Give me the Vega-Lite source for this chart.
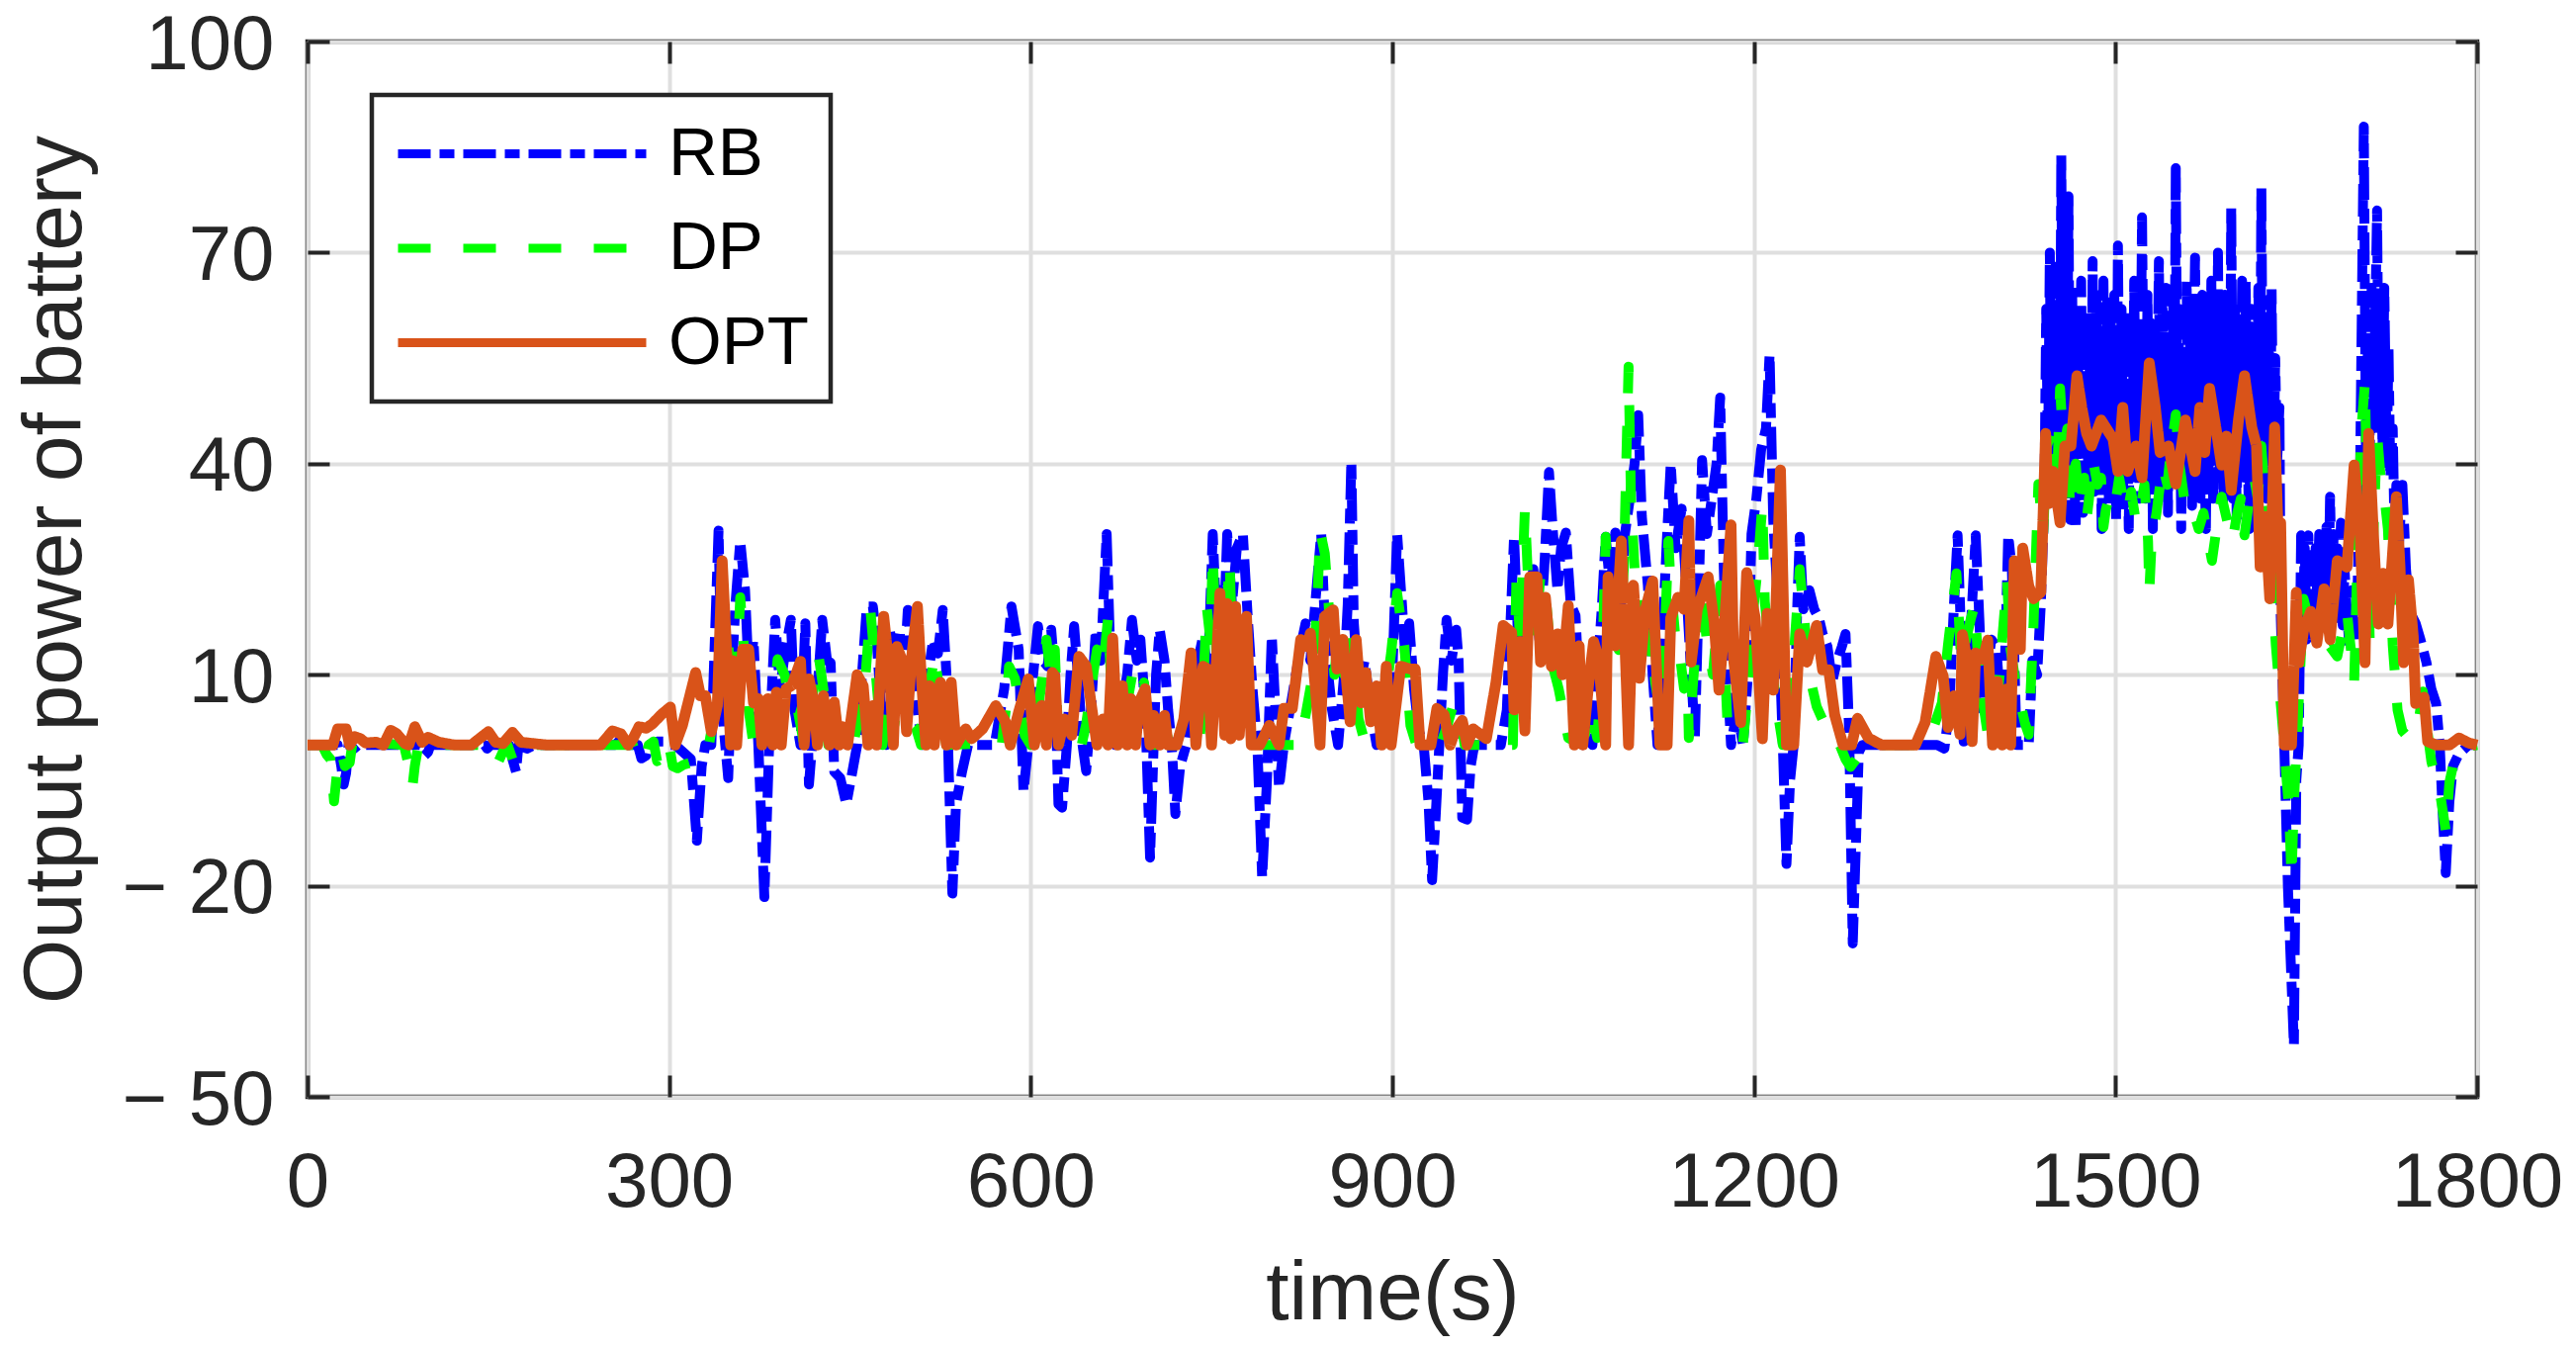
{
  "$schema": "https://vega.github.io/schema/vega-lite/v6.json",
  "width": 2194,
  "height": 1067,
  "autosize": {"type": "none"},
  "padding": {"left": 311, "top": 42, "right": 100, "bottom": 255},
  "background": "white",
  "datasets": {
    "rb": [
      {"t":0,"p":0,"s":"RB"},{"t":25,"p":0,"s":"RB"},{"t":28,"p":-3,"s":"RB"},{"t":30,"p":-5.6,"s":"RB"},{"t":32,"p":-4,"s":"RB"},{"t":34,"p":0,"s":"RB"},{"t":38,"p":-0.6,"s":"RB"},{"t":42,"p":0,"s":"RB"},{"t":93,"p":0,"s":"RB"},{"t":97,"p":-1.5,"s":"RB"},{"t":100,"p":-1,"s":"RB"},{"t":102,"p":0,"s":"RB"},{"t":147,"p":0,"s":"RB"},{"t":149,"p":-0.5,"s":"RB"},{"t":152,"p":0,"s":"RB"},{"t":167,"p":0,"s":"RB"},{"t":170,"p":-2,"s":"RB"},{"t":173,"p":-3.8,"s":"RB"},{"t":175,"p":0,"s":"RB"},{"t":182,"p":-0.5,"s":"RB"},{"t":188,"p":0,"s":"RB"},{"t":255,"p":0,"s":"RB"},{"t":258,"p":0.5,"s":"RB"},{"t":262,"p":0,"s":"RB"},{"t":274,"p":0,"s":"RB"},{"t":277,"p":-1.9,"s":"RB"},{"t":281,"p":-1.5,"s":"RB"},{"t":283,"p":0,"s":"RB"},{"t":290,"p":0.5,"s":"RB"},{"t":297,"p":0.5,"s":"RB"},{"t":300,"p":0,"s":"RB"},{"t":305,"p":0,"s":"RB"},{"t":318,"p":-2,"s":"RB"},{"t":323,"p":-13.6,"s":"RB"},{"t":327,"p":-3,"s":"RB"},{"t":330,"p":0,"s":"RB"},{"t":335,"p":0,"s":"RB"},{"t":341,"p":30.5,"s":"RB"},{"t":344,"p":5,"s":"RB"},{"t":349,"p":-4.7,"s":"RB"},{"t":352,"p":10,"s":"RB"},{"t":355,"p":20,"s":"RB"},{"t":359,"p":29,"s":"RB"},{"t":363,"p":22,"s":"RB"},{"t":366,"p":10,"s":"RB"},{"t":370,"p":15,"s":"RB"},{"t":374,"p":0,"s":"RB"},{"t":379,"p":-21.6,"s":"RB"},{"t":383,"p":0,"s":"RB"},{"t":388,"p":17.8,"s":"RB"},{"t":392,"p":8,"s":"RB"},{"t":396,"p":13,"s":"RB"},{"t":401,"p":17.8,"s":"RB"},{"t":404,"p":5,"s":"RB"},{"t":409,"p":0,"s":"RB"},{"t":413,"p":17.3,"s":"RB"},{"t":416,"p":-5.6,"s":"RB"},{"t":420,"p":3,"s":"RB"},{"t":424,"p":10,"s":"RB"},{"t":427,"p":17.8,"s":"RB"},{"t":431,"p":12,"s":"RB"},{"t":434,"p":11.7,"s":"RB"},{"t":437,"p":-3.8,"s":"RB"},{"t":442,"p":-4.7,"s":"RB"},{"t":447,"p":-8.4,"s":"RB"},{"t":452,"p":-3.8,"s":"RB"},{"t":456,"p":0,"s":"RB"},{"t":460,"p":10,"s":"RB"},{"t":464,"p":19.7,"s":"RB"},{"t":469,"p":19.7,"s":"RB"},{"t":472,"p":15.4,"s":"RB"},{"t":476,"p":5,"s":"RB"},{"t":480,"p":0,"s":"RB"},{"t":483,"p":16.4,"s":"RB"},{"t":487,"p":12,"s":"RB"},{"t":491,"p":16.4,"s":"RB"},{"t":495,"p":10,"s":"RB"},{"t":498,"p":19.2,"s":"RB"},{"t":502,"p":12,"s":"RB"},{"t":506,"p":5,"s":"RB"},{"t":510,"p":0,"s":"RB"},{"t":515,"p":10,"s":"RB"},{"t":519,"p":15,"s":"RB"},{"t":523,"p":13,"s":"RB"},{"t":527,"p":19.2,"s":"RB"},{"t":530,"p":10.3,"s":"RB"},{"t":532,"p":-3.8,"s":"RB"},{"t":535,"p":-21.1,"s":"RB"},{"t":538,"p":-8.4,"s":"RB"},{"t":543,"p":-3.8,"s":"RB"},{"t":548,"p":0,"s":"RB"},{"t":570,"p":0,"s":"RB"},{"t":578,"p":8,"s":"RB"},{"t":584,"p":19.7,"s":"RB"},{"t":590,"p":13.6,"s":"RB"},{"t":594,"p":-6.6,"s":"RB"},{"t":598,"p":0,"s":"RB"},{"t":602,"p":10,"s":"RB"},{"t":606,"p":16.9,"s":"RB"},{"t":610,"p":12,"s":"RB"},{"t":614,"p":11.2,"s":"RB"},{"t":617,"p":16.4,"s":"RB"},{"t":620,"p":10,"s":"RB"},{"t":623,"p":-8.4,"s":"RB"},{"t":626,"p":-8.9,"s":"RB"},{"t":630,"p":0,"s":"RB"},{"t":633,"p":10,"s":"RB"},{"t":636,"p":16.9,"s":"RB"},{"t":640,"p":8,"s":"RB"},{"t":643,"p":0,"s":"RB"},{"t":646,"p":-3.7,"s":"RB"},{"t":650,"p":5,"s":"RB"},{"t":654,"p":16.4,"s":"RB"},{"t":658,"p":12,"s":"RB"},{"t":663,"p":30,"s":"RB"},{"t":666,"p":13,"s":"RB"},{"t":670,"p":0,"s":"RB"},{"t":675,"p":5,"s":"RB"},{"t":680,"p":10,"s":"RB"},{"t":684,"p":17.8,"s":"RB"},{"t":688,"p":12,"s":"RB"},{"t":691,"p":15,"s":"RB"},{"t":695,"p":5,"s":"RB"},{"t":699,"p":-16,"s":"RB"},{"t":702,"p":0,"s":"RB"},{"t":704,"p":10,"s":"RB"},{"t":707,"p":16.4,"s":"RB"},{"t":711,"p":12,"s":"RB"},{"t":714,"p":5,"s":"RB"},{"t":717,"p":0,"s":"RB"},{"t":720,"p":-9.8,"s":"RB"},{"t":724,"p":-3,"s":"RB"},{"t":729,"p":0,"s":"RB"},{"t":735,"p":8,"s":"RB"},{"t":740,"p":13,"s":"RB"},{"t":743,"p":15.5,"s":"RB"},{"t":747,"p":10,"s":"RB"},{"t":751,"p":30,"s":"RB"},{"t":754,"p":18,"s":"RB"},{"t":757,"p":22,"s":"RB"},{"t":760,"p":15,"s":"RB"},{"t":763,"p":30,"s":"RB"},{"t":767,"p":20,"s":"RB"},{"t":771,"p":28,"s":"RB"},{"t":776,"p":30,"s":"RB"},{"t":780,"p":18.3,"s":"RB"},{"t":784,"p":8,"s":"RB"},{"t":788,"p":0,"s":"RB"},{"t":792,"p":-18.8,"s":"RB"},{"t":796,"p":-5,"s":"RB"},{"t":800,"p":15.5,"s":"RB"},{"t":803,"p":5,"s":"RB"},{"t":806,"p":-6.1,"s":"RB"},{"t":810,"p":0,"s":"RB"},{"t":815,"p":5,"s":"RB"},{"t":820,"p":10,"s":"RB"},{"t":824,"p":14,"s":"RB"},{"t":828,"p":17.3,"s":"RB"},{"t":832,"p":12,"s":"RB"},{"t":836,"p":20,"s":"RB"},{"t":841,"p":30,"s":"RB"},{"t":845,"p":13,"s":"RB"},{"t":850,"p":5,"s":"RB"},{"t":855,"p":0,"s":"RB"},{"t":860,"p":10,"s":"RB"},{"t":863,"p":20,"s":"RB"},{"t":866,"p":40.3,"s":"RB"},{"t":868,"p":17.5,"s":"RB"},{"t":872,"p":8,"s":"RB"},{"t":877,"p":12,"s":"RB"},{"t":882,"p":5,"s":"RB"},{"t":887,"p":0,"s":"RB"},{"t":892,"p":3,"s":"RB"},{"t":896,"p":0.5,"s":"RB"},{"t":900,"p":10,"s":"RB"},{"t":904,"p":30,"s":"RB"},{"t":908,"p":20,"s":"RB"},{"t":911,"p":12,"s":"RB"},{"t":914,"p":17.3,"s":"RB"},{"t":918,"p":8,"s":"RB"},{"t":922,"p":2,"s":"RB"},{"t":926,"p":0,"s":"RB"},{"t":930,"p":-8,"s":"RB"},{"t":933,"p":-19.2,"s":"RB"},{"t":936,"p":-10,"s":"RB"},{"t":939,"p":0,"s":"RB"},{"t":942,"p":10,"s":"RB"},{"t":945,"p":17.8,"s":"RB"},{"t":949,"p":12,"s":"RB"},{"t":953,"p":16.4,"s":"RB"},{"t":955,"p":12,"s":"RB"},{"t":958,"p":-10.3,"s":"RB"},{"t":962,"p":-10.6,"s":"RB"},{"t":965,"p":-3,"s":"RB"},{"t":968,"p":0,"s":"RB"},{"t":990,"p":0,"s":"RB"},{"t":995,"p":5,"s":"RB"},{"t":1001,"p":29.6,"s":"RB"},{"t":1005,"p":12,"s":"RB"},{"t":1009,"p":8,"s":"RB"},{"t":1013,"p":20,"s":"RB"},{"t":1017,"p":25,"s":"RB"},{"t":1022,"p":15,"s":"RB"},{"t":1026,"p":25,"s":"RB"},{"t":1030,"p":38.8,"s":"RB"},{"t":1033,"p":30.8,"s":"RB"},{"t":1037,"p":22,"s":"RB"},{"t":1040,"p":28,"s":"RB"},{"t":1044,"p":30.2,"s":"RB"},{"t":1048,"p":20,"s":"RB"},{"t":1052,"p":18.4,"s":"RB"},{"t":1055,"p":8,"s":"RB"},{"t":1058,"p":0,"s":"RB"},{"t":1062,"p":5,"s":"RB"},{"t":1066,"p":0,"s":"RB"},{"t":1070,"p":10,"s":"RB"},{"t":1074,"p":20,"s":"RB"},{"t":1077,"p":29.6,"s":"RB"},{"t":1081,"p":22,"s":"RB"},{"t":1085,"p":30.2,"s":"RB"},{"t":1089,"p":18,"s":"RB"},{"t":1093,"p":30,"s":"RB"},{"t":1097,"p":35,"s":"RB"},{"t":1101,"p":40,"s":"RB"},{"t":1104,"p":46.9,"s":"RB"},{"t":1107,"p":32.5,"s":"RB"},{"t":1112,"p":22.7,"s":"RB"},{"t":1116,"p":10,"s":"RB"},{"t":1120,"p":0,"s":"RB"},{"t":1124,"p":15,"s":"RB"},{"t":1128,"p":30,"s":"RB"},{"t":1131,"p":40,"s":"RB"},{"t":1135,"p":28,"s":"RB"},{"t":1140,"p":33.6,"s":"RB"},{"t":1144,"p":22,"s":"RB"},{"t":1148,"p":10,"s":"RB"},{"t":1151,"p":1,"s":"RB"},{"t":1154,"p":20,"s":"RB"},{"t":1157,"p":40.5,"s":"RB"},{"t":1161,"p":30,"s":"RB"},{"t":1165,"p":35,"s":"RB"},{"t":1169,"p":40,"s":"RB"},{"t":1172,"p":49.4,"s":"RB"},{"t":1175,"p":25,"s":"RB"},{"t":1178,"p":10,"s":"RB"},{"t":1181,"p":0,"s":"RB"},{"t":1186,"p":5,"s":"RB"},{"t":1191,"p":0,"s":"RB"},{"t":1195,"p":10,"s":"RB"},{"t":1198,"p":30,"s":"RB"},{"t":1202,"p":35,"s":"RB"},{"t":1206,"p":42,"s":"RB"},{"t":1210,"p":45,"s":"RB"},{"t":1213,"p":55.5,"s":"RB"},{"t":1216,"p":32,"s":"RB"},{"t":1220,"p":20,"s":"RB"},{"t":1224,"p":0,"s":"RB"},{"t":1227,"p":-16.9,"s":"RB"},{"t":1230,"p":-5,"s":"RB"},{"t":1233,"p":0,"s":"RB"},{"t":1236,"p":20,"s":"RB"},{"t":1238,"p":29.6,"s":"RB"},{"t":1241,"p":19.3,"s":"RB"},{"t":1246,"p":22,"s":"RB"},{"t":1250,"p":19.3,"s":"RB"},{"t":1254,"p":18,"s":"RB"},{"t":1257,"p":15.8,"s":"RB"},{"t":1261,"p":14,"s":"RB"},{"t":1265,"p":9,"s":"RB"},{"t":1269,"p":12,"s":"RB"},{"t":1273,"p":14,"s":"RB"},{"t":1276,"p":15.8,"s":"RB"},{"t":1279,"p":2,"s":"RB"},{"t":1282,"p":-28.2,"s":"RB"},{"t":1285,"p":-12,"s":"RB"},{"t":1287,"p":-1,"s":"RB"},{"t":1290,"p":0,"s":"RB"},{"t":1352,"p":0,"s":"RB"},{"t":1358,"p":-0.5,"s":"RB"},{"t":1362,"p":5,"s":"RB"},{"t":1366,"p":20,"s":"RB"},{"t":1369,"p":29.8,"s":"RB"},{"t":1372,"p":15,"s":"RB"},{"t":1374,"p":0.5,"s":"RB"},{"t":1378,"p":10,"s":"RB"},{"t":1381,"p":20,"s":"RB"},{"t":1384,"p":29.8,"s":"RB"},{"t":1387,"p":18,"s":"RB"},{"t":1390,"p":5,"s":"RB"},{"t":1393,"p":10,"s":"RB"},{"t":1397,"p":15,"s":"RB"},{"t":1401,"p":14,"s":"RB"},{"t":1405,"p":5,"s":"RB"},{"t":1408,"p":10,"s":"RB"},{"t":1411,"p":29.8,"s":"RB"},{"t":1414,"p":25,"s":"RB"},{"t":1418,"p":0,"s":"RB"},{"t":1428,"p":0,"s":"RB"},{"t":1431,"p":12,"s":"RB"},{"t":1435,"p":10,"s":"RB"},{"t":1438,"p":20,"s":"RB"},{"t":1441,"p":35,"s":"RB"},{"t":1442.5,"p":62,"s":"RB"},{"t":1444,"p":40,"s":"RB"},{"t":1445.5,"p":70,"s":"RB"},{"t":1447,"p":38,"s":"RB"},{"t":1448.5,"p":58,"s":"RB"},{"t":1450,"p":68,"s":"RB"},{"t":1451.5,"p":34,"s":"RB"},{"t":1453,"p":60,"s":"RB"},{"t":1454,"p":45,"s":"RB"},{"t":1455,"p":83.8,"s":"RB"},{"t":1456.5,"p":42,"s":"RB"},{"t":1458,"p":72,"s":"RB"},{"t":1459.5,"p":38,"s":"RB"},{"t":1461,"p":78,"s":"RB"},{"t":1462.5,"p":32,"s":"RB"},{"t":1464,"p":65,"s":"RB"},{"t":1465.5,"p":40,"s":"RB"},{"t":1467,"p":30.7,"s":"RB"},{"t":1468.5,"p":60,"s":"RB"},{"t":1470,"p":42,"s":"RB"},{"t":1471.5,"p":66,"s":"RB"},{"t":1473,"p":33,"s":"RB"},{"t":1474.5,"p":55,"s":"RB"},{"t":1476,"p":62,"s":"RB"},{"t":1477.5,"p":35,"s":"RB"},{"t":1479,"p":60,"s":"RB"},{"t":1480,"p":40,"s":"RB"},{"t":1481,"p":68.8,"s":"RB"},{"t":1482.5,"p":36,"s":"RB"},{"t":1484,"p":64,"s":"RB"},{"t":1485.5,"p":42,"s":"RB"},{"t":1487,"p":58,"s":"RB"},{"t":1488.5,"p":30.7,"s":"RB"},{"t":1490,"p":66,"s":"RB"},{"t":1491.5,"p":40,"s":"RB"},{"t":1493,"p":63,"s":"RB"},{"t":1494.5,"p":34,"s":"RB"},{"t":1496,"p":60,"s":"RB"},{"t":1497.5,"p":45,"s":"RB"},{"t":1499,"p":64,"s":"RB"},{"t":1500.5,"p":32,"s":"RB"},{"t":1502,"p":71,"s":"RB"},{"t":1503.5,"p":40,"s":"RB"},{"t":1505,"p":62,"s":"RB"},{"t":1506.5,"p":33,"s":"RB"},{"t":1508,"p":58,"s":"RB"},{"t":1509.5,"p":45,"s":"RB"},{"t":1511,"p":30.7,"s":"RB"},{"t":1512.5,"p":62,"s":"RB"},{"t":1514,"p":38,"s":"RB"},{"t":1515.5,"p":66,"s":"RB"},{"t":1517,"p":40,"s":"RB"},{"t":1518.5,"p":55,"s":"RB"},{"t":1520,"p":35,"s":"RB"},{"t":1522,"p":75,"s":"RB"},{"t":1523.5,"p":45,"s":"RB"},{"t":1525,"p":35,"s":"RB"},{"t":1526.5,"p":64,"s":"RB"},{"t":1528,"p":40,"s":"RB"},{"t":1529.5,"p":60,"s":"RB"},{"t":1531,"p":30.7,"s":"RB"},{"t":1532.5,"p":58,"s":"RB"},{"t":1534,"p":38,"s":"RB"},{"t":1535,"p":55,"s":"RB"},{"t":1536,"p":68.8,"s":"RB"},{"t":1537.5,"p":36,"s":"RB"},{"t":1539,"p":62,"s":"RB"},{"t":1540.5,"p":40,"s":"RB"},{"t":1542,"p":65,"s":"RB"},{"t":1543.5,"p":33,"s":"RB"},{"t":1545,"p":58,"s":"RB"},{"t":1546.5,"p":38,"s":"RB"},{"t":1548,"p":65,"s":"RB"},{"t":1549,"p":50,"s":"RB"},{"t":1550,"p":82,"s":"RB"},{"t":1551.5,"p":40,"s":"RB"},{"t":1553,"p":62,"s":"RB"},{"t":1554.5,"p":30.7,"s":"RB"},{"t":1556,"p":55,"s":"RB"},{"t":1557.5,"p":35,"s":"RB"},{"t":1559,"p":66,"s":"RB"},{"t":1560.5,"p":40,"s":"RB"},{"t":1562,"p":60,"s":"RB"},{"t":1563.5,"p":34,"s":"RB"},{"t":1565,"p":58,"s":"RB"},{"t":1566,"p":69.3,"s":"RB"},{"t":1567.5,"p":38,"s":"RB"},{"t":1569,"p":62,"s":"RB"},{"t":1570.5,"p":35,"s":"RB"},{"t":1572,"p":64,"s":"RB"},{"t":1573.5,"p":42,"s":"RB"},{"t":1575,"p":30.7,"s":"RB"},{"t":1576.5,"p":60,"s":"RB"},{"t":1578,"p":40,"s":"RB"},{"t":1579.5,"p":66,"s":"RB"},{"t":1581,"p":35,"s":"RB"},{"t":1582.5,"p":58,"s":"RB"},{"t":1584,"p":45,"s":"RB"},{"t":1585,"p":70,"s":"RB"},{"t":1586.5,"p":38,"s":"RB"},{"t":1588,"p":62,"s":"RB"},{"t":1589.5,"p":35,"s":"RB"},{"t":1591,"p":64,"s":"RB"},{"t":1592.5,"p":40,"s":"RB"},{"t":1594,"p":60,"s":"RB"},{"t":1595,"p":45,"s":"RB"},{"t":1596,"p":76.5,"s":"RB"},{"t":1597.5,"p":35,"s":"RB"},{"t":1599,"p":62,"s":"RB"},{"t":1600.5,"p":32,"s":"RB"},{"t":1602,"p":60,"s":"RB"},{"t":1603.5,"p":40,"s":"RB"},{"t":1605,"p":66,"s":"RB"},{"t":1606.5,"p":38,"s":"RB"},{"t":1608,"p":66,"s":"RB"},{"t":1609.5,"p":42,"s":"RB"},{"t":1611,"p":30.7,"s":"RB"},{"t":1612.5,"p":62,"s":"RB"},{"t":1614,"p":38,"s":"RB"},{"t":1615.5,"p":58,"s":"RB"},{"t":1617,"p":35,"s":"RB"},{"t":1618.5,"p":65,"s":"RB"},{"t":1620,"p":45,"s":"RB"},{"t":1621,"p":79.2,"s":"RB"},{"t":1622.5,"p":40,"s":"RB"},{"t":1624,"p":62,"s":"RB"},{"t":1625.5,"p":35,"s":"RB"},{"t":1627,"p":60,"s":"RB"},{"t":1628.5,"p":42,"s":"RB"},{"t":1629.5,"p":65,"s":"RB"},{"t":1631,"p":38,"s":"RB"},{"t":1632.5,"p":55,"s":"RB"},{"t":1634,"p":40,"s":"RB"},{"t":1636,"p":48,"s":"RB"},{"t":1637,"p":19,"s":"RB"},{"t":1640,"p":0,"s":"RB"},{"t":1643,"p":-20,"s":"RB"},{"t":1648,"p":-42.7,"s":"RB"},{"t":1650,"p":-5,"s":"RB"},{"t":1652,"p":0,"s":"RB"},{"t":1654,"p":29.8,"s":"RB"},{"t":1655.5,"p":18,"s":"RB"},{"t":1657,"p":28,"s":"RB"},{"t":1658.5,"p":15,"s":"RB"},{"t":1660,"p":29.8,"s":"RB"},{"t":1661.5,"p":18,"s":"RB"},{"t":1663,"p":27,"s":"RB"},{"t":1664.5,"p":16,"s":"RB"},{"t":1666,"p":28,"s":"RB"},{"t":1667.5,"p":20,"s":"RB"},{"t":1669,"p":30,"s":"RB"},{"t":1670.5,"p":17,"s":"RB"},{"t":1672,"p":28,"s":"RB"},{"t":1673.5,"p":22,"s":"RB"},{"t":1675,"p":31,"s":"RB"},{"t":1676.5,"p":20,"s":"RB"},{"t":1678,"p":35.3,"s":"RB"},{"t":1679.5,"p":22,"s":"RB"},{"t":1681,"p":30,"s":"RB"},{"t":1682.5,"p":18,"s":"RB"},{"t":1684,"p":28,"s":"RB"},{"t":1685.5,"p":20,"s":"RB"},{"t":1687,"p":31.6,"s":"RB"},{"t":1688.5,"p":17,"s":"RB"},{"t":1690,"p":25,"s":"RB"},{"t":1692,"p":19,"s":"RB"},{"t":1694,"p":14,"s":"RB"},{"t":1696,"p":22,"s":"RB"},{"t":1698,"p":15,"s":"RB"},{"t":1700,"p":15.3,"s":"RB"},{"t":1703,"p":40,"s":"RB"},{"t":1706,"p":87.9,"s":"RB"},{"t":1708,"p":35,"s":"RB"},{"t":1709.5,"p":60,"s":"RB"},{"t":1711,"p":42,"s":"RB"},{"t":1712.5,"p":65,"s":"RB"},{"t":1714,"p":45,"s":"RB"},{"t":1717,"p":76,"s":"RB"},{"t":1718.5,"p":45,"s":"RB"},{"t":1720,"p":62,"s":"RB"},{"t":1721.5,"p":42,"s":"RB"},{"t":1723,"p":65,"s":"RB"},{"t":1725,"p":40,"s":"RB"},{"t":1726.5,"p":56.5,"s":"RB"},{"t":1728,"p":38,"s":"RB"},{"t":1730,"p":45,"s":"RB"},{"t":1731.5,"p":30,"s":"RB"},{"t":1733,"p":37,"s":"RB"},{"t":1735,"p":28,"s":"RB"},{"t":1738,"p":37,"s":"RB"},{"t":1741,"p":25,"s":"RB"},{"t":1744,"p":19,"s":"RB"},{"t":1749,"p":17.3,"s":"RB"},{"t":1753,"p":15,"s":"RB"},{"t":1758,"p":11.7,"s":"RB"},{"t":1762,"p":8,"s":"RB"},{"t":1766,"p":5.9,"s":"RB"},{"t":1769,"p":0,"s":"RB"},{"t":1771,"p":-8,"s":"RB"},{"t":1774,"p":-18.2,"s":"RB"},{"t":1777,"p":-8,"s":"RB"},{"t":1780,"p":-3,"s":"RB"},{"t":1785,"p":-1.2,"s":"RB"},{"t":1793,"p":0,"s":"RB"},{"t":1800,"p":0,"s":"RB"}
    ],
    "dp": [
      {"t":0,"p":0,"s":"DP"},{"t":12,"p":0,"s":"DP"},{"t":16,"p":-1.4,"s":"DP"},{"t":19,"p":-2,"s":"DP"},{"t":22,"p":-8,"s":"DP"},{"t":25,"p":-3,"s":"DP"},{"t":28,"p":-1,"s":"DP"},{"t":31,"p":-3,"s":"DP"},{"t":35,"p":-2.5,"s":"DP"},{"t":37,"p":0,"s":"DP"},{"t":45,"p":0.3,"s":"DP"},{"t":55,"p":0.3,"s":"DP"},{"t":80,"p":0,"s":"DP"},{"t":84,"p":-3,"s":"DP"},{"t":87,"p":-6,"s":"DP"},{"t":89,"p":-3,"s":"DP"},{"t":92,"p":0,"s":"DP"},{"t":150,"p":0,"s":"DP"},{"t":154,"p":-1.5,"s":"DP"},{"t":158,"p":-2.5,"s":"DP"},{"t":162,"p":-1,"s":"DP"},{"t":166,"p":0,"s":"DP"},{"t":170,"p":-2,"s":"DP"},{"t":174,"p":-1.5,"s":"DP"},{"t":178,"p":0,"s":"DP"},{"t":270,"p":0,"s":"DP"},{"t":274,"p":-2,"s":"DP"},{"t":280,"p":-2.3,"s":"DP"},{"t":283,"p":0,"s":"DP"},{"t":287,"p":0.5,"s":"DP"},{"t":290,"p":-2.3,"s":"DP"},{"t":293,"p":-2,"s":"DP"},{"t":296,"p":0.5,"s":"DP"},{"t":300,"p":0,"s":"DP"},{"t":303,"p":-3,"s":"DP"},{"t":307,"p":-3.3,"s":"DP"},{"t":312,"p":-2.8,"s":"DP"},{"t":318,"p":-2.5,"s":"DP"},{"t":324,"p":-1.5,"s":"DP"},{"t":328,"p":0,"s":"DP"},{"t":333,"p":0,"s":"DP"},{"t":338,"p":5,"s":"DP"},{"t":341,"p":3.7,"s":"DP"},{"t":345,"p":8.4,"s":"DP"},{"t":349,"p":15,"s":"DP"},{"t":352,"p":2,"s":"DP"},{"t":356,"p":10,"s":"DP"},{"t":359,"p":21,"s":"DP"},{"t":362,"p":14,"s":"DP"},{"t":366,"p":5,"s":"DP"},{"t":370,"p":0,"s":"DP"},{"t":380,"p":0,"s":"DP"},{"t":386,"p":5,"s":"DP"},{"t":390,"p":12.2,"s":"DP"},{"t":396,"p":9.9,"s":"DP"},{"t":401,"p":5,"s":"DP"},{"t":407,"p":4.7,"s":"DP"},{"t":412,"p":0,"s":"DP"},{"t":418,"p":5,"s":"DP"},{"t":421,"p":10,"s":"DP"},{"t":424,"p":12.7,"s":"DP"},{"t":428,"p":8,"s":"DP"},{"t":432,"p":0,"s":"DP"},{"t":437,"p":6.1,"s":"DP"},{"t":441,"p":0,"s":"DP"},{"t":453,"p":0,"s":"DP"},{"t":458,"p":5,"s":"DP"},{"t":463,"p":10,"s":"DP"},{"t":467,"p":19.2,"s":"DP"},{"t":470,"p":13.1,"s":"DP"},{"t":474,"p":5,"s":"DP"},{"t":477,"p":0,"s":"DP"},{"t":480,"p":4.2,"s":"DP"},{"t":484,"p":8,"s":"DP"},{"t":487,"p":3,"s":"DP"},{"t":491,"p":14,"s":"DP"},{"t":494,"p":8,"s":"DP"},{"t":497,"p":8.4,"s":"DP"},{"t":501,"p":3,"s":"DP"},{"t":505,"p":2.3,"s":"DP"},{"t":509,"p":0,"s":"DP"},{"t":514,"p":5,"s":"DP"},{"t":517,"p":9,"s":"DP"},{"t":520,"p":13,"s":"DP"},{"t":524,"p":8,"s":"DP"},{"t":527,"p":4,"s":"DP"},{"t":530,"p":0,"s":"DP"},{"t":554,"p":0.2,"s":"DP"},{"t":576,"p":0.2,"s":"DP"},{"t":580,"p":6,"s":"DP"},{"t":582,"p":11.2,"s":"DP"},{"t":587,"p":9.4,"s":"DP"},{"t":591,"p":5,"s":"DP"},{"t":595,"p":1.4,"s":"DP"},{"t":600,"p":0,"s":"DP"},{"t":606,"p":5,"s":"DP"},{"t":610,"p":10,"s":"DP"},{"t":613,"p":15,"s":"DP"},{"t":617,"p":9.4,"s":"DP"},{"t":620,"p":13.6,"s":"DP"},{"t":623,"p":0,"s":"DP"},{"t":636,"p":-0.2,"s":"DP"},{"t":642,"p":-0.2,"s":"DP"},{"t":646,"p":3,"s":"DP"},{"t":650,"p":8,"s":"DP"},{"t":655,"p":13.6,"s":"DP"},{"t":660,"p":11,"s":"DP"},{"t":664,"p":17.8,"s":"DP"},{"t":668,"p":5,"s":"DP"},{"t":672,"p":0,"s":"DP"},{"t":678,"p":4,"s":"DP"},{"t":684,"p":9.8,"s":"DP"},{"t":689,"p":7,"s":"DP"},{"t":694,"p":8.9,"s":"DP"},{"t":698,"p":2,"s":"DP"},{"t":703,"p":0,"s":"DP"},{"t":707,"p":6.1,"s":"DP"},{"t":711,"p":3,"s":"DP"},{"t":715,"p":0,"s":"DP"},{"t":740,"p":0,"s":"DP"},{"t":743,"p":8,"s":"DP"},{"t":746,"p":19.7,"s":"DP"},{"t":749,"p":15,"s":"DP"},{"t":751,"p":27.2,"s":"DP"},{"t":755,"p":8,"s":"DP"},{"t":758,"p":10,"s":"DP"},{"t":761,"p":15,"s":"DP"},{"t":765,"p":26.2,"s":"DP"},{"t":768,"p":10,"s":"DP"},{"t":772,"p":0,"s":"DP"},{"t":822,"p":0,"s":"DP"},{"t":828,"p":4.2,"s":"DP"},{"t":834,"p":10,"s":"DP"},{"t":838,"p":21.1,"s":"DP"},{"t":840,"p":30.5,"s":"DP"},{"t":844,"p":27.2,"s":"DP"},{"t":848,"p":18,"s":"DP"},{"t":852,"p":10,"s":"DP"},{"t":855,"p":15.9,"s":"DP"},{"t":860,"p":10,"s":"DP"},{"t":866,"p":15.4,"s":"DP"},{"t":872,"p":3.7,"s":"DP"},{"t":877,"p":0.5,"s":"DP"},{"t":890,"p":0,"s":"DP"},{"t":895,"p":8,"s":"DP"},{"t":899,"p":13.1,"s":"DP"},{"t":904,"p":21.6,"s":"DP"},{"t":910,"p":14,"s":"DP"},{"t":915,"p":2.8,"s":"DP"},{"t":920,"p":0,"s":"DP"},{"t":940,"p":0,"s":"DP"},{"t":946,"p":3,"s":"DP"},{"t":951,"p":6,"s":"DP"},{"t":956,"p":4.7,"s":"DP"},{"t":960,"p":0,"s":"DP"},{"t":1000,"p":0,"s":"DP"},{"t":1003,"p":23.9,"s":"DP"},{"t":1006,"p":15,"s":"DP"},{"t":1010,"p":33.6,"s":"DP"},{"t":1013,"p":22,"s":"DP"},{"t":1018,"p":15,"s":"DP"},{"t":1023,"p":24.1,"s":"DP"},{"t":1027,"p":21.6,"s":"DP"},{"t":1032,"p":12,"s":"DP"},{"t":1038,"p":8,"s":"DP"},{"t":1046,"p":1,"s":"DP"},{"t":1052,"p":0.5,"s":"DP"},{"t":1060,"p":1.5,"s":"DP"},{"t":1065,"p":5,"s":"DP"},{"t":1070,"p":1,"s":"DP"},{"t":1074,"p":10,"s":"DP"},{"t":1077,"p":29.6,"s":"DP"},{"t":1080,"p":19,"s":"DP"},{"t":1084,"p":15,"s":"DP"},{"t":1088,"p":13.5,"s":"DP"},{"t":1092,"p":25,"s":"DP"},{"t":1096,"p":53.8,"s":"DP"},{"t":1098,"p":35,"s":"DP"},{"t":1101,"p":25,"s":"DP"},{"t":1106,"p":18,"s":"DP"},{"t":1110,"p":12,"s":"DP"},{"t":1114,"p":15.8,"s":"DP"},{"t":1118,"p":9,"s":"DP"},{"t":1122,"p":5,"s":"DP"},{"t":1126,"p":15,"s":"DP"},{"t":1129,"p":29,"s":"DP"},{"t":1131,"p":22.7,"s":"DP"},{"t":1135,"p":15,"s":"DP"},{"t":1138,"p":13.5,"s":"DP"},{"t":1142,"p":8,"s":"DP"},{"t":1145,"p":9,"s":"DP"},{"t":1146,"p":1,"s":"DP"},{"t":1150,"p":10,"s":"DP"},{"t":1156,"p":22.7,"s":"DP"},{"t":1161,"p":14.7,"s":"DP"},{"t":1166,"p":10,"s":"DP"},{"t":1172,"p":22.7,"s":"DP"},{"t":1175,"p":15,"s":"DP"},{"t":1178,"p":3.2,"s":"DP"},{"t":1184,"p":1,"s":"DP"},{"t":1191,"p":0.3,"s":"DP"},{"t":1196,"p":10,"s":"DP"},{"t":1200,"p":20,"s":"DP"},{"t":1203,"p":25,"s":"DP"},{"t":1207,"p":34.2,"s":"DP"},{"t":1209,"p":20.4,"s":"DP"},{"t":1214,"p":12,"s":"DP"},{"t":1219,"p":5.5,"s":"DP"},{"t":1224,"p":0,"s":"DP"},{"t":1230,"p":0,"s":"DP"},{"t":1234,"p":15,"s":"DP"},{"t":1238,"p":25,"s":"DP"},{"t":1241,"p":19.3,"s":"DP"},{"t":1246,"p":10,"s":"DP"},{"t":1252,"p":5.5,"s":"DP"},{"t":1258,"p":3.2,"s":"DP"},{"t":1264,"p":2,"s":"DP"},{"t":1270,"p":0.5,"s":"DP"},{"t":1276,"p":-2,"s":"DP"},{"t":1280,"p":-3.1,"s":"DP"},{"t":1285,"p":-2,"s":"DP"},{"t":1290,"p":-1,"s":"DP"},{"t":1295,"p":0,"s":"DP"},{"t":1340,"p":0,"s":"DP"},{"t":1342,"p":0.5,"s":"DP"},{"t":1350,"p":3,"s":"DP"},{"t":1356,"p":6,"s":"DP"},{"t":1361,"p":14.2,"s":"DP"},{"t":1365,"p":20,"s":"DP"},{"t":1368,"p":24.4,"s":"DP"},{"t":1372,"p":11.8,"s":"DP"},{"t":1376,"p":15,"s":"DP"},{"t":1380,"p":18,"s":"DP"},{"t":1383,"p":19.8,"s":"DP"},{"t":1387,"p":9.9,"s":"DP"},{"t":1391,"p":5,"s":"DP"},{"t":1394,"p":1.5,"s":"DP"},{"t":1398,"p":3,"s":"DP"},{"t":1402,"p":6,"s":"DP"},{"t":1406,"p":15,"s":"DP"},{"t":1410,"p":23.5,"s":"DP"},{"t":1413,"p":13.5,"s":"DP"},{"t":1418,"p":8,"s":"DP"},{"t":1421,"p":6,"s":"DP"},{"t":1425,"p":3,"s":"DP"},{"t":1428,"p":1.5,"s":"DP"},{"t":1432,"p":17.3,"s":"DP"},{"t":1436,"p":37.1,"s":"DP"},{"t":1440,"p":30,"s":"DP"},{"t":1443,"p":42.5,"s":"DP"},{"t":1448,"p":45,"s":"DP"},{"t":1450,"p":36,"s":"DP"},{"t":1452,"p":40,"s":"DP"},{"t":1454,"p":50.7,"s":"DP"},{"t":1457,"p":42,"s":"DP"},{"t":1460,"p":45,"s":"DP"},{"t":1462,"p":35,"s":"DP"},{"t":1464,"p":38,"s":"DP"},{"t":1467,"p":40,"s":"DP"},{"t":1470,"p":33.5,"s":"DP"},{"t":1474,"p":38,"s":"DP"},{"t":1476,"p":32,"s":"DP"},{"t":1478,"p":35,"s":"DP"},{"t":1481,"p":40.8,"s":"DP"},{"t":1485,"p":37,"s":"DP"},{"t":1488,"p":38,"s":"DP"},{"t":1490,"p":31,"s":"DP"},{"t":1492,"p":33.5,"s":"DP"},{"t":1496,"p":36,"s":"DP"},{"t":1500,"p":34.5,"s":"DP"},{"t":1503,"p":38,"s":"DP"},{"t":1506,"p":35.3,"s":"DP"},{"t":1510,"p":33,"s":"DP"},{"t":1513,"p":36,"s":"DP"},{"t":1517,"p":31.6,"s":"DP"},{"t":1521,"p":34,"s":"DP"},{"t":1524,"p":37,"s":"DP"},{"t":1527,"p":29,"s":"DP"},{"t":1528,"p":21.7,"s":"DP"},{"t":1530,"p":29,"s":"DP"},{"t":1534,"p":33,"s":"DP"},{"t":1539,"p":39.8,"s":"DP"},{"t":1543,"p":37,"s":"DP"},{"t":1546,"p":42,"s":"DP"},{"t":1550,"p":47,"s":"DP"},{"t":1553,"p":40,"s":"DP"},{"t":1557,"p":35,"s":"DP"},{"t":1561,"p":35.3,"s":"DP"},{"t":1565,"p":33,"s":"DP"},{"t":1569,"p":30.7,"s":"DP"},{"t":1573,"p":33,"s":"DP"},{"t":1577,"p":29,"s":"DP"},{"t":1580,"p":26.2,"s":"DP"},{"t":1584,"p":31,"s":"DP"},{"t":1588,"p":35.3,"s":"DP"},{"t":1593,"p":31.6,"s":"DP"},{"t":1597,"p":29,"s":"DP"},{"t":1601,"p":33,"s":"DP"},{"t":1604,"p":35,"s":"DP"},{"t":1607,"p":29.8,"s":"DP"},{"t":1611,"p":35,"s":"DP"},{"t":1615,"p":38,"s":"DP"},{"t":1618,"p":35,"s":"DP"},{"t":1621,"p":42.5,"s":"DP"},{"t":1624,"p":35.3,"s":"DP"},{"t":1628,"p":28,"s":"DP"},{"t":1631,"p":20,"s":"DP"},{"t":1633,"p":14.2,"s":"DP"},{"t":1636,"p":8,"s":"DP"},{"t":1640,"p":0,"s":"DP"},{"t":1642,"p":-5,"s":"DP"},{"t":1644,"p":-9.1,"s":"DP"},{"t":1646,"p":-19.1,"s":"DP"},{"t":1648,"p":-8,"s":"DP"},{"t":1650,"p":-1.4,"s":"DP"},{"t":1653,"p":10,"s":"DP"},{"t":1656,"p":20.8,"s":"DP"},{"t":1660,"p":18,"s":"DP"},{"t":1664,"p":16,"s":"DP"},{"t":1668,"p":14.5,"s":"DP"},{"t":1673,"p":13.5,"s":"DP"},{"t":1678,"p":14,"s":"DP"},{"t":1684,"p":12.6,"s":"DP"},{"t":1688,"p":16,"s":"DP"},{"t":1692,"p":19,"s":"DP"},{"t":1695,"p":14,"s":"DP"},{"t":1698,"p":9,"s":"DP"},{"t":1702,"p":35,"s":"DP"},{"t":1704,"p":45,"s":"DP"},{"t":1707,"p":51.6,"s":"DP"},{"t":1709,"p":30,"s":"DP"},{"t":1711,"p":14.2,"s":"DP"},{"t":1714,"p":30,"s":"DP"},{"t":1717,"p":44.3,"s":"DP"},{"t":1720,"p":38,"s":"DP"},{"t":1722,"p":37.1,"s":"DP"},{"t":1726,"p":30.7,"s":"DP"},{"t":1730,"p":14.2,"s":"DP"},{"t":1734,"p":5,"s":"DP"},{"t":1738,"p":2,"s":"DP"},{"t":1741,"p":1.4,"s":"DP"},{"t":1749,"p":1.4,"s":"DP"},{"t":1752,"p":4,"s":"DP"},{"t":1755,"p":7.6,"s":"DP"},{"t":1758,"p":3,"s":"DP"},{"t":1762,"p":-2.3,"s":"DP"},{"t":1766,"p":-5,"s":"DP"},{"t":1770,"p":-7.7,"s":"DP"},{"t":1774,"p":-12.2,"s":"DP"},{"t":1777,"p":-5.3,"s":"DP"},{"t":1782,"p":-1.4,"s":"DP"},{"t":1790,"p":-0.3,"s":"DP"},{"t":1800,"p":0,"s":"DP"}
    ],
    "opt": [
      {"t":0,"p":0,"s":"OPT"},{"t":21,"p":0,"s":"OPT"},{"t":25,"p":2.3,"s":"OPT"},{"t":32,"p":2.3,"s":"OPT"},{"t":35,"p":0,"s":"OPT"},{"t":39,"p":1.2,"s":"OPT"},{"t":44,"p":0.9,"s":"OPT"},{"t":48,"p":0.3,"s":"OPT"},{"t":57,"p":0.4,"s":"OPT"},{"t":63,"p":0,"s":"OPT"},{"t":69,"p":2.1,"s":"OPT"},{"t":74,"p":1.6,"s":"OPT"},{"t":81,"p":0.2,"s":"OPT"},{"t":84,"p":0,"s":"OPT"},{"t":89,"p":2.6,"s":"OPT"},{"t":95,"p":0.4,"s":"OPT"},{"t":100,"p":1.1,"s":"OPT"},{"t":109,"p":0.4,"s":"OPT"},{"t":122,"p":0,"s":"OPT"},{"t":136,"p":0,"s":"OPT"},{"t":141,"p":0.7,"s":"OPT"},{"t":150,"p":1.9,"s":"OPT"},{"t":156,"p":0.4,"s":"OPT"},{"t":162,"p":0.2,"s":"OPT"},{"t":170,"p":1.8,"s":"OPT"},{"t":177,"p":0.4,"s":"OPT"},{"t":188,"p":0.2,"s":"OPT"},{"t":199,"p":0,"s":"OPT"},{"t":243,"p":0,"s":"OPT"},{"t":253,"p":2,"s":"OPT"},{"t":260,"p":1.6,"s":"OPT"},{"t":266,"p":0,"s":"OPT"},{"t":270,"p":0.9,"s":"OPT"},{"t":275,"p":2.6,"s":"OPT"},{"t":281,"p":2.4,"s":"OPT"},{"t":286,"p":3,"s":"OPT"},{"t":294,"p":4.4,"s":"OPT"},{"t":301,"p":5.4,"s":"OPT"},{"t":305,"p":0,"s":"OPT"},{"t":311,"p":2.8,"s":"OPT"},{"t":322,"p":10.3,"s":"OPT"},{"t":326,"p":7,"s":"OPT"},{"t":330,"p":7,"s":"OPT"},{"t":335,"p":1.9,"s":"OPT"},{"t":340,"p":5.6,"s":"OPT"},{"t":344,"p":26.2,"s":"OPT"},{"t":348,"p":12.2,"s":"OPT"},{"t":351,"p":0,"s":"OPT"},{"t":353,"p":12,"s":"OPT"},{"t":356,"p":0,"s":"OPT"},{"t":361,"p":13.6,"s":"OPT"},{"t":366,"p":13.6,"s":"OPT"},{"t":370,"p":6,"s":"OPT"},{"t":374,"p":6.6,"s":"OPT"},{"t":377,"p":0,"s":"OPT"},{"t":382,"p":6.6,"s":"OPT"},{"t":386,"p":0,"s":"OPT"},{"t":389,"p":7.5,"s":"OPT"},{"t":393,"p":0,"s":"OPT"},{"t":397,"p":8,"s":"OPT"},{"t":402,"p":8.5,"s":"OPT"},{"t":409,"p":11.9,"s":"OPT"},{"t":412,"p":0,"s":"OPT"},{"t":416,"p":9.4,"s":"OPT"},{"t":420,"p":6.1,"s":"OPT"},{"t":423,"p":0,"s":"OPT"},{"t":428,"p":7,"s":"OPT"},{"t":433,"p":0,"s":"OPT"},{"t":437,"p":6.1,"s":"OPT"},{"t":441,"p":0,"s":"OPT"},{"t":444,"p":2.6,"s":"OPT"},{"t":448,"p":0,"s":"OPT"},{"t":456,"p":10,"s":"OPT"},{"t":461,"p":8.4,"s":"OPT"},{"t":465,"p":0,"s":"OPT"},{"t":469,"p":5.6,"s":"OPT"},{"t":472,"p":0,"s":"OPT"},{"t":478,"p":18.3,"s":"OPT"},{"t":483,"p":10.3,"s":"OPT"},{"t":486,"p":0,"s":"OPT"},{"t":489,"p":14,"s":"OPT"},{"t":493,"p":12.2,"s":"OPT"},{"t":497,"p":1.9,"s":"OPT"},{"t":501,"p":12.2,"s":"OPT"},{"t":506,"p":19.7,"s":"OPT"},{"t":509,"p":10.3,"s":"OPT"},{"t":513,"p":0,"s":"OPT"},{"t":516,"p":8.4,"s":"OPT"},{"t":520,"p":0,"s":"OPT"},{"t":525,"p":8.9,"s":"OPT"},{"t":530,"p":0,"s":"OPT"},{"t":534,"p":8.9,"s":"OPT"},{"t":538,"p":0,"s":"OPT"},{"t":546,"p":2.3,"s":"OPT"},{"t":551,"p":0.9,"s":"OPT"},{"t":560,"p":2.3,"s":"OPT"},{"t":571,"p":5.6,"s":"OPT"},{"t":579,"p":3.3,"s":"OPT"},{"t":583,"p":0,"s":"OPT"},{"t":590,"p":4.7,"s":"OPT"},{"t":598,"p":9.4,"s":"OPT"},{"t":603,"p":0,"s":"OPT"},{"t":609,"p":5.6,"s":"OPT"},{"t":613,"p":0,"s":"OPT"},{"t":618,"p":10.3,"s":"OPT"},{"t":620,"p":9.8,"s":"OPT"},{"t":623,"p":0,"s":"OPT"},{"t":628,"p":3.7,"s":"OPT"},{"t":634,"p":1.4,"s":"OPT"},{"t":640,"p":12.6,"s":"OPT"},{"t":646,"p":11.2,"s":"OPT"},{"t":650,"p":6,"s":"OPT"},{"t":655,"p":0,"s":"OPT"},{"t":660,"p":3.7,"s":"OPT"},{"t":664,"p":0,"s":"OPT"},{"t":668,"p":15.2,"s":"OPT"},{"t":672,"p":0,"s":"OPT"},{"t":676,"p":8.4,"s":"OPT"},{"t":680,"p":0,"s":"OPT"},{"t":683,"p":6.6,"s":"OPT"},{"t":687,"p":0,"s":"OPT"},{"t":690,"p":6.1,"s":"OPT"},{"t":695,"p":8,"s":"OPT"},{"t":699,"p":0,"s":"OPT"},{"t":702,"p":4.2,"s":"OPT"},{"t":707,"p":0,"s":"OPT"},{"t":711,"p":4.2,"s":"OPT"},{"t":714,"p":0,"s":"OPT"},{"t":721,"p":0,"s":"OPT"},{"t":727,"p":3.7,"s":"OPT"},{"t":733,"p":13.1,"s":"OPT"},{"t":737,"p":0,"s":"OPT"},{"t":743,"p":11.2,"s":"OPT"},{"t":747,"p":10.8,"s":"OPT"},{"t":750,"p":0,"s":"OPT"},{"t":753,"p":8.4,"s":"OPT"},{"t":757,"p":21.6,"s":"OPT"},{"t":761,"p":1.4,"s":"OPT"},{"t":763,"p":20.1,"s":"OPT"},{"t":766,"p":0.9,"s":"OPT"},{"t":770,"p":19.7,"s":"OPT"},{"t":773,"p":1.4,"s":"OPT"},{"t":779,"p":18.3,"s":"OPT"},{"t":783,"p":0,"s":"OPT"},{"t":790,"p":0,"s":"OPT"},{"t":798,"p":2.8,"s":"OPT"},{"t":806,"p":0,"s":"OPT"},{"t":810,"p":5.2,"s":"OPT"},{"t":817,"p":5.2,"s":"OPT"},{"t":824,"p":15,"s":"OPT"},{"t":829,"p":14,"s":"OPT"},{"t":832,"p":15.9,"s":"OPT"},{"t":836,"p":8.4,"s":"OPT"},{"t":840,"p":0,"s":"OPT"},{"t":844,"p":18.3,"s":"OPT"},{"t":851,"p":19.2,"s":"OPT"},{"t":854,"p":10.8,"s":"OPT"},{"t":859,"p":15,"s":"OPT"},{"t":865,"p":3.3,"s":"OPT"},{"t":870,"p":15,"s":"OPT"},{"t":874,"p":6,"s":"OPT"},{"t":878,"p":10.3,"s":"OPT"},{"t":882,"p":3.3,"s":"OPT"},{"t":887,"p":8.4,"s":"OPT"},{"t":891,"p":0,"s":"OPT"},{"t":895,"p":11.2,"s":"OPT"},{"t":899,"p":0,"s":"OPT"},{"t":907,"p":11.2,"s":"OPT"},{"t":915,"p":10.8,"s":"OPT"},{"t":919,"p":10.8,"s":"OPT"},{"t":923,"p":0,"s":"OPT"},{"t":932,"p":0,"s":"OPT"},{"t":937,"p":5.2,"s":"OPT"},{"t":943,"p":4.3,"s":"OPT"},{"t":948,"p":0,"s":"OPT"},{"t":952,"p":2,"s":"OPT"},{"t":958,"p":3.5,"s":"OPT"},{"t":962,"p":0,"s":"OPT"},{"t":967,"p":2.3,"s":"OPT"},{"t":978,"p":0.9,"s":"OPT"},{"t":986,"p":8.9,"s":"OPT"},{"t":992,"p":17,"s":"OPT"},{"t":999,"p":16,"s":"OPT"},{"t":1001,"p":5,"s":"OPT"},{"t":1006,"p":14.7,"s":"OPT"},{"t":1010,"p":2,"s":"OPT"},{"t":1014,"p":23.9,"s":"OPT"},{"t":1020,"p":23.9,"s":"OPT"},{"t":1023,"p":11.8,"s":"OPT"},{"t":1027,"p":21,"s":"OPT"},{"t":1032,"p":11.2,"s":"OPT"},{"t":1037,"p":15.8,"s":"OPT"},{"t":1041,"p":10,"s":"OPT"},{"t":1046,"p":19.8,"s":"OPT"},{"t":1051,"p":0,"s":"OPT"},{"t":1055,"p":14.1,"s":"OPT"},{"t":1058,"p":0,"s":"OPT"},{"t":1063,"p":8.9,"s":"OPT"},{"t":1067,"p":14.7,"s":"OPT"},{"t":1071,"p":12.4,"s":"OPT"},{"t":1077,"p":0,"s":"OPT"},{"t":1079,"p":23.9,"s":"OPT"},{"t":1085,"p":14.1,"s":"OPT"},{"t":1090,"p":29,"s":"OPT"},{"t":1096,"p":0,"s":"OPT"},{"t":1100,"p":22.7,"s":"OPT"},{"t":1105,"p":9.5,"s":"OPT"},{"t":1110,"p":19.3,"s":"OPT"},{"t":1116,"p":23.3,"s":"OPT"},{"t":1122,"p":0,"s":"OPT"},{"t":1128,"p":0,"s":"OPT"},{"t":1131,"p":18.1,"s":"OPT"},{"t":1137,"p":21,"s":"OPT"},{"t":1142,"p":19.3,"s":"OPT"},{"t":1146,"p":31.9,"s":"OPT"},{"t":1148,"p":11.8,"s":"OPT"},{"t":1153,"p":19.3,"s":"OPT"},{"t":1162,"p":23.9,"s":"OPT"},{"t":1167,"p":17.5,"s":"OPT"},{"t":1171,"p":7.8,"s":"OPT"},{"t":1175,"p":15.8,"s":"OPT"},{"t":1181,"p":31.3,"s":"OPT"},{"t":1183,"p":12.4,"s":"OPT"},{"t":1189,"p":3.2,"s":"OPT"},{"t":1194,"p":24.5,"s":"OPT"},{"t":1201,"p":18.1,"s":"OPT"},{"t":1207,"p":0.9,"s":"OPT"},{"t":1211,"p":18.7,"s":"OPT"},{"t":1216,"p":7.8,"s":"OPT"},{"t":1222,"p":39.1,"s":"OPT"},{"t":1227,"p":0,"s":"OPT"},{"t":1233,"p":0,"s":"OPT"},{"t":1238,"p":15.8,"s":"OPT"},{"t":1244,"p":11.8,"s":"OPT"},{"t":1252,"p":17,"s":"OPT"},{"t":1257,"p":10.7,"s":"OPT"},{"t":1262,"p":10.7,"s":"OPT"},{"t":1267,"p":4.3,"s":"OPT"},{"t":1274,"p":0,"s":"OPT"},{"t":1281,"p":0,"s":"OPT"},{"t":1286,"p":3.8,"s":"OPT"},{"t":1295,"p":1,"s":"OPT"},{"t":1306,"p":0,"s":"OPT"},{"t":1334,"p":0,"s":"OPT"},{"t":1342,"p":3.2,"s":"OPT"},{"t":1351,"p":12.6,"s":"OPT"},{"t":1357,"p":9.8,"s":"OPT"},{"t":1361,"p":2.5,"s":"OPT"},{"t":1366,"p":7,"s":"OPT"},{"t":1371,"p":1.5,"s":"OPT"},{"t":1373,"p":15.7,"s":"OPT"},{"t":1377,"p":12,"s":"OPT"},{"t":1381,"p":0.5,"s":"OPT"},{"t":1384,"p":13.1,"s":"OPT"},{"t":1390,"p":12.2,"s":"OPT"},{"t":1394,"p":14.9,"s":"OPT"},{"t":1398,"p":0,"s":"OPT"},{"t":1402,"p":9,"s":"OPT"},{"t":1406,"p":0,"s":"OPT"},{"t":1410,"p":8,"s":"OPT"},{"t":1413,"p":0,"s":"OPT"},{"t":1416,"p":26.2,"s":"OPT"},{"t":1421,"p":13.6,"s":"OPT"},{"t":1423,"p":28,"s":"OPT"},{"t":1428,"p":22.6,"s":"OPT"},{"t":1432,"p":20.8,"s":"OPT"},{"t":1438,"p":21.7,"s":"OPT"},{"t":1442,"p":44.3,"s":"OPT"},{"t":1444,"p":34.3,"s":"OPT"},{"t":1448,"p":38.9,"s":"OPT"},{"t":1454,"p":31.6,"s":"OPT"},{"t":1458,"p":42.5,"s":"OPT"},{"t":1463,"p":42.5,"s":"OPT"},{"t":1468,"p":52.5,"s":"OPT"},{"t":1472,"p":48,"s":"OPT"},{"t":1476,"p":44.3,"s":"OPT"},{"t":1480,"p":42.5,"s":"OPT"},{"t":1488,"p":46.2,"s":"OPT"},{"t":1498,"p":43.5,"s":"OPT"},{"t":1502,"p":38.9,"s":"OPT"},{"t":1506,"p":48,"s":"OPT"},{"t":1510,"p":38.9,"s":"OPT"},{"t":1517,"p":42.5,"s":"OPT"},{"t":1522,"p":38,"s":"OPT"},{"t":1528,"p":54.3,"s":"OPT"},{"t":1533,"p":48,"s":"OPT"},{"t":1537,"p":41.6,"s":"OPT"},{"t":1544,"p":42.5,"s":"OPT"},{"t":1550,"p":37.1,"s":"OPT"},{"t":1558,"p":46.2,"s":"OPT"},{"t":1566,"p":38.9,"s":"OPT"},{"t":1570,"p":48,"s":"OPT"},{"t":1574,"p":41.6,"s":"OPT"},{"t":1578,"p":50.7,"s":"OPT"},{"t":1584,"p":44.3,"s":"OPT"},{"t":1588,"p":39.8,"s":"OPT"},{"t":1592,"p":43.9,"s":"OPT"},{"t":1596,"p":36.2,"s":"OPT"},{"t":1602,"p":46.2,"s":"OPT"},{"t":1607,"p":52.5,"s":"OPT"},{"t":1613,"p":45.2,"s":"OPT"},{"t":1617,"p":42.5,"s":"OPT"},{"t":1620,"p":25.3,"s":"OPT"},{"t":1624,"p":32.5,"s":"OPT"},{"t":1628,"p":20.8,"s":"OPT"},{"t":1632,"p":45.2,"s":"OPT"},{"t":1635,"p":29.8,"s":"OPT"},{"t":1637,"p":31.6,"s":"OPT"},{"t":1640,"p":0,"s":"OPT"},{"t":1646,"p":0,"s":"OPT"},{"t":1650,"p":21.7,"s":"OPT"},{"t":1652,"p":11.7,"s":"OPT"},{"t":1656,"p":16.3,"s":"OPT"},{"t":1662,"p":19,"s":"OPT"},{"t":1667,"p":14.5,"s":"OPT"},{"t":1673,"p":22.2,"s":"OPT"},{"t":1678,"p":15,"s":"OPT"},{"t":1684,"p":26.2,"s":"OPT"},{"t":1692,"p":25.3,"s":"OPT"},{"t":1698,"p":39.8,"s":"OPT"},{"t":1703,"p":29.8,"s":"OPT"},{"t":1707,"p":11.7,"s":"OPT"},{"t":1710,"p":44.3,"s":"OPT"},{"t":1714,"p":29.8,"s":"OPT"},{"t":1718,"p":17.2,"s":"OPT"},{"t":1722,"p":24.4,"s":"OPT"},{"t":1726,"p":17.2,"s":"OPT"},{"t":1733,"p":35.3,"s":"OPT"},{"t":1736,"p":25.3,"s":"OPT"},{"t":1739,"p":11.7,"s":"OPT"},{"t":1743,"p":23.5,"s":"OPT"},{"t":1747,"p":15.4,"s":"OPT"},{"t":1749,"p":5.9,"s":"OPT"},{"t":1756,"p":6.8,"s":"OPT"},{"t":1759,"p":0.5,"s":"OPT"},{"t":1766,"p":0,"s":"OPT"},{"t":1777,"p":0,"s":"OPT"},{"t":1785,"p":1,"s":"OPT"},{"t":1793,"p":0.3,"s":"OPT"},{"t":1800,"p":0,"s":"OPT"}
    ]
  },
  "layer": [
    {
      "encoding": {
        "x": {
          "field": "t",
          "type": "quantitative",
          "scale": {"domain": [0, 1800], "nice": false, "zero": false},
          "axis": {
            "title": "time(s)",
            "values": [0, 300, 600, 900, 1200, 1500, 1800],
            "format": "d",
            "labelPadding": 70,
            "labelFlush": false,
            "labelOverlap": false,
            "titlePadding": 32
          }
        },
        "y": {
          "field": "p",
          "type": "quantitative",
          "scale": {"domain": [-50, 100], "nice": false, "zero": false},
          "axis": {
            "title": "Output power of battery",
            "values": [-50, -20, 10, 40, 70, 100],
            "labelExpr": "datum.value < 0 ? '\u2212 ' + abs(datum.value) : datum.label",
            "labelPadding": 56,
            "labelOffset": 4,
            "titlePadding": 24
          }
        },
        "color": {
          "field": "s",
          "type": "nominal",
          "scale": {"domain": ["RB", "DP", "OPT"], "range": ["#0000FF", "#00FF00", "#D95319"]},
          "legend": {"title": null}
        },
        "strokeDash": {
          "field": "s",
          "type": "nominal",
          "scale": {"domain": ["RB", "DP", "OPT"], "range": [[33, 9, 15, 9], [33, 33], [1, 0]]},
          "legend": {"title": null}
        }
      },
      "layer": [
        {"data": {"name": "rb"}, "mark": {"type": "line", "strokeWidth": 10, "strokeJoin": "round"}},
        {"data": {"name": "dp"}, "mark": {"type": "line", "strokeWidth": 10, "strokeJoin": "round"}},
        {"data": {"name": "opt"}, "mark": {"type": "line", "strokeWidth": 11, "strokeJoin": "round"}}
      ]
    },
    {
      "data": {"name": "opt"},
      "mark": {"type": "line", "opacity": 0},
      "encoding": {
        "x": {
          "field": "t",
          "type": "quantitative",
          "scale": {"domain": [0, 1800], "nice": false, "zero": false},
          "axis": {"orient": "top", "labels": false, "title": null, "grid": false, "values": [0, 300, 600, 900, 1200, 1500, 1800]}
        },
        "y": {
          "field": "p",
          "type": "quantitative",
          "scale": {"domain": [-50, 100], "nice": false, "zero": false},
          "axis": {"orient": "right", "labels": false, "title": null, "grid": false, "values": [-50, -20, 10, 40, 70, 100]}
        }
      }
    }
  ],
  "resolve": {"scale": {"x": "independent", "y": "independent"}},
  "config": {
    "font": "Liberation Sans",
    "view": {"stroke": "#262626", "strokeWidth": 4.5, "fill": "white"},
    "axis": {
      "domain": false,
      "grid": true,
      "gridColor": "#DFDFDF",
      "gridWidth": 4,
      "tickSize": -22,
      "tickWidth": 4,
      "tickColor": "#262626",
      "labelFont": "Liberation Sans",
      "labelFontSize": 78,
      "labelColor": "#262626",
      "titleFont": "Liberation Sans",
      "titleFontSize": 84,
      "titleFontWeight": "normal",
      "titleColor": "#262626"
    },
    "legend": {
      "orient": "none",
      "legendX": 65,
      "legendY": 54,
      "padding": 22,
      "fillColor": "white",
      "strokeColor": "#262626",
      "strokeWidth": 4.5,
      "clipHeight": 75,
      "rowPadding": 20.5,
      "symbolType": "stroke",
      "symbolSize": 63000,
      "symbolStrokeWidth": 9,
      "labelOffset": 18,
      "labelFont": "Liberation Sans",
      "labelFontSize": 69,
      "labelColor": "#000000",
      "labelLimit": 0
    }
  }
}
